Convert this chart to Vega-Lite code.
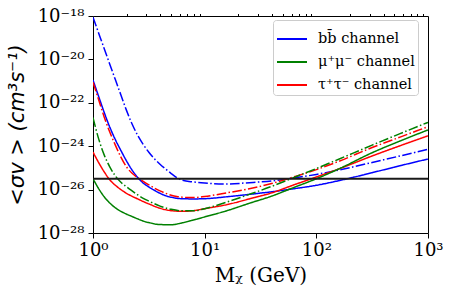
{
"$schema":"https://vega.github.io/schema/vega-lite/v6.json",
"width":335,"height":217,
"autosize":{"type":"none"},
"padding":{"left":93,"top":16,"right":23,"bottom":66},
"background":"white",
"config":{"view":{"stroke":"black","strokeWidth":1}},
"data":{"values":[
{"m":1,"v":8.71e-19,"c":"b","s":"dd"},{"m":1.122,"v":1.66e-19,"c":"b","s":"dd"},{"m":1.259,"v":3.16e-20,"c":"b","s":"dd"},{"m":1.413,"v":6.03e-21,"c":"b","s":"dd"},{"m":1.585,"v":1.17e-21,"c":"b","s":"dd"},{"m":1.778,"v":2.29e-22,"c":"b","s":"dd"},{"m":1.995,"v":4.47e-23,"c":"b","s":"dd"},{"m":2.239,"v":1.05e-23,"c":"b","s":"dd"},{"m":2.512,"v":3.16e-24,"c":"b","s":"dd"},{"m":2.818,"v":1.20e-24,"c":"b","s":"dd"},{"m":3.162,"v":5.25e-25,"c":"b","s":"dd"},{"m":3.548,"v":2.63e-25,"c":"b","s":"dd"},{"m":3.981,"v":1.48e-25,"c":"b","s":"dd"},{"m":4.467,"v":8.91e-26,"c":"b","s":"dd"},{"m":5.012,"v":5.50e-26,"c":"b","s":"dd"},{"m":5.623,"v":3.55e-26,"c":"b","s":"dd"},{"m":6.31,"v":2.69e-26,"c":"b","s":"dd"},{"m":7.943,"v":2.24e-26,"c":"b","s":"dd"},{"m":10,"v":2.00e-26,"c":"b","s":"dd"},{"m":15.85,"v":1.82e-26,"c":"b","s":"dd"},{"m":25.12,"v":2.09e-26,"c":"b","s":"dd"},{"m":39.81,"v":2.51e-26,"c":"b","s":"dd"},{"m":63.1,"v":3.47e-26,"c":"b","s":"dd"},{"m":100,"v":5.01e-26,"c":"b","s":"dd"},{"m":158.5,"v":7.94e-26,"c":"b","s":"dd"},{"m":316.2,"v":1.78e-25,"c":"b","s":"dd"},{"m":562.3,"v":3.55e-25,"c":"b","s":"dd"},{"m":1000,"v":7.24e-25,"c":"b","s":"dd"},
{"m":1,"v":1.12e-21,"c":"b","s":"solid"},{"m":1.122,"v":2.00e-22,"c":"b","s":"solid"},{"m":1.259,"v":3.63e-23,"c":"b","s":"solid"},{"m":1.413,"v":7.59e-24,"c":"b","s":"solid"},{"m":1.585,"v":2.00e-24,"c":"b","s":"solid"},{"m":1.778,"v":6.31e-25,"c":"b","s":"solid"},{"m":1.995,"v":2.09e-25,"c":"b","s":"solid"},{"m":2.239,"v":7.94e-26,"c":"b","s":"solid"},{"m":2.512,"v":3.63e-26,"c":"b","s":"solid"},{"m":2.818,"v":2.00e-26,"c":"b","s":"solid"},{"m":3.162,"v":1.32e-26,"c":"b","s":"solid"},{"m":3.548,"v":9.33e-27,"c":"b","s":"solid"},{"m":3.981,"v":6.76e-27,"c":"b","s":"solid"},{"m":4.467,"v":5.25e-27,"c":"b","s":"solid"},{"m":5.012,"v":4.47e-27,"c":"b","s":"solid"},{"m":5.623,"v":3.98e-27,"c":"b","s":"solid"},{"m":6.31,"v":3.80e-27,"c":"b","s":"solid"},{"m":7.943,"v":3.72e-27,"c":"b","s":"solid"},{"m":10,"v":3.80e-27,"c":"b","s":"solid"},{"m":15.85,"v":4.68e-27,"c":"b","s":"solid"},{"m":25.12,"v":6.03e-27,"c":"b","s":"solid"},{"m":39.81,"v":7.94e-27,"c":"b","s":"solid"},{"m":63.1,"v":1.10e-26,"c":"b","s":"solid"},{"m":100,"v":1.58e-26,"c":"b","s":"solid"},{"m":158.5,"v":2.57e-26,"c":"b","s":"solid"},{"m":316.2,"v":6.03e-26,"c":"b","s":"solid"},{"m":562.3,"v":1.26e-25,"c":"b","s":"solid"},{"m":1000,"v":2.57e-25,"c":"b","s":"solid"},
{"m":1,"v":8.91e-22,"c":"t","s":"dd"},{"m":1.122,"v":1.41e-22,"c":"t","s":"dd"},{"m":1.259,"v":2.24e-23,"c":"t","s":"dd"},{"m":1.413,"v":4.47e-24,"c":"t","s":"dd"},{"m":1.585,"v":1.12e-24,"c":"t","s":"dd"},{"m":1.778,"v":3.16e-25,"c":"t","s":"dd"},{"m":1.995,"v":1.12e-25,"c":"t","s":"dd"},{"m":2.239,"v":5.62e-26,"c":"t","s":"dd"},{"m":2.512,"v":3.55e-26,"c":"t","s":"dd"},{"m":2.818,"v":2.40e-26,"c":"t","s":"dd"},{"m":3.162,"v":1.66e-26,"c":"t","s":"dd"},{"m":3.548,"v":1.17e-26,"c":"t","s":"dd"},{"m":3.981,"v":8.71e-27,"c":"t","s":"dd"},{"m":4.467,"v":6.76e-27,"c":"t","s":"dd"},{"m":5.012,"v":5.50e-27,"c":"t","s":"dd"},{"m":5.623,"v":4.79e-27,"c":"t","s":"dd"},{"m":6.31,"v":4.47e-27,"c":"t","s":"dd"},{"m":7.943,"v":4.27e-27,"c":"t","s":"dd"},{"m":10,"v":4.79e-27,"c":"t","s":"dd"},{"m":15.85,"v":7.08e-27,"c":"t","s":"dd"},{"m":25.12,"v":1.10e-26,"c":"t","s":"dd"},{"m":39.81,"v":1.91e-26,"c":"t","s":"dd"},{"m":63.1,"v":3.89e-26,"c":"t","s":"dd"},{"m":100,"v":8.32e-26,"c":"t","s":"dd"},{"m":158.5,"v":2.00e-25,"c":"t","s":"dd"},{"m":316.2,"v":8.71e-25,"c":"t","s":"dd"},{"m":562.3,"v":2.63e-24,"c":"t","s":"dd"},{"m":1000,"v":7.94e-24,"c":"t","s":"dd"},
{"m":1,"v":5.37e-25,"c":"t","s":"solid"},{"m":1.122,"v":1.78e-25,"c":"t","s":"solid"},{"m":1.259,"v":6.61e-26,"c":"t","s":"solid"},{"m":1.413,"v":2.82e-26,"c":"t","s":"solid"},{"m":1.585,"v":1.58e-26,"c":"t","s":"solid"},{"m":1.778,"v":1.00e-26,"c":"t","s":"solid"},{"m":1.995,"v":6.76e-27,"c":"t","s":"solid"},{"m":2.239,"v":4.90e-27,"c":"t","s":"solid"},{"m":2.512,"v":3.72e-27,"c":"t","s":"solid"},{"m":2.818,"v":2.82e-27,"c":"t","s":"solid"},{"m":3.162,"v":2.19e-27,"c":"t","s":"solid"},{"m":3.981,"v":1.38e-27,"c":"t","s":"solid"},{"m":5.012,"v":1.07e-27,"c":"t","s":"solid"},{"m":6.31,"v":1.00e-27,"c":"t","s":"solid"},{"m":7.943,"v":1.07e-27,"c":"t","s":"solid"},{"m":10,"v":1.32e-27,"c":"t","s":"solid"},{"m":15.85,"v":2.04e-27,"c":"t","s":"solid"},{"m":25.12,"v":3.72e-27,"c":"t","s":"solid"},{"m":39.81,"v":7.08e-27,"c":"t","s":"solid"},{"m":63.1,"v":1.66e-26,"c":"t","s":"solid"},{"m":100,"v":3.80e-26,"c":"t","s":"solid"},{"m":158.5,"v":8.91e-26,"c":"t","s":"solid"},{"m":316.2,"v":3.55e-25,"c":"t","s":"solid"},{"m":562.3,"v":1.05e-24,"c":"t","s":"solid"},{"m":1000,"v":3.02e-24,"c":"t","s":"solid"},
{"m":1,"v":2.09e-23,"c":"m","s":"dd"},{"m":1.122,"v":2.24e-24,"c":"m","s":"dd"},{"m":1.259,"v":3.98e-25,"c":"m","s":"dd"},{"m":1.413,"v":1.12e-25,"c":"m","s":"dd"},{"m":1.585,"v":4.27e-26,"c":"m","s":"dd"},{"m":1.778,"v":2.19e-26,"c":"m","s":"dd"},{"m":1.995,"v":1.35e-26,"c":"m","s":"dd"},{"m":2.239,"v":8.71e-27,"c":"m","s":"dd"},{"m":2.512,"v":5.75e-27,"c":"m","s":"dd"},{"m":2.818,"v":3.98e-27,"c":"m","s":"dd"},{"m":3.162,"v":2.95e-27,"c":"m","s":"dd"},{"m":3.981,"v":1.74e-27,"c":"m","s":"dd"},{"m":5.012,"v":1.23e-27,"c":"m","s":"dd"},{"m":6.31,"v":1.05e-27,"c":"m","s":"dd"},{"m":7.943,"v":1.05e-27,"c":"m","s":"dd"},{"m":10,"v":1.32e-27,"c":"m","s":"dd"},{"m":15.85,"v":2.69e-27,"c":"m","s":"dd"},{"m":25.12,"v":6.03e-27,"c":"m","s":"dd"},{"m":39.81,"v":1.41e-26,"c":"m","s":"dd"},{"m":63.1,"v":3.63e-26,"c":"m","s":"dd"},{"m":100,"v":9.33e-26,"c":"m","s":"dd"},{"m":158.5,"v":2.51e-25,"c":"m","s":"dd"},{"m":316.2,"v":1.12e-24,"c":"m","s":"dd"},{"m":562.3,"v":3.80e-24,"c":"m","s":"dd"},{"m":1000,"v":1.26e-23,"c":"m","s":"dd"},
{"m":1,"v":3.16e-26,"c":"m","s":"solid"},{"m":1.122,"v":1.12e-26,"c":"m","s":"solid"},{"m":1.259,"v":4.68e-27,"c":"m","s":"solid"},{"m":1.413,"v":2.40e-27,"c":"m","s":"solid"},{"m":1.585,"v":1.45e-27,"c":"m","s":"solid"},{"m":1.778,"v":1.00e-27,"c":"m","s":"solid"},{"m":1.995,"v":7.41e-28,"c":"m","s":"solid"},{"m":2.239,"v":5.75e-28,"c":"m","s":"solid"},{"m":2.512,"v":4.47e-28,"c":"m","s":"solid"},{"m":2.818,"v":3.55e-28,"c":"m","s":"solid"},{"m":3.162,"v":3.02e-28,"c":"m","s":"solid"},{"m":3.981,"v":2.45e-28,"c":"m","s":"solid"},{"m":5.012,"v":2.40e-28,"c":"m","s":"solid"},{"m":6.31,"v":2.95e-28,"c":"m","s":"solid"},{"m":7.943,"v":3.98e-28,"c":"m","s":"solid"},{"m":10,"v":5.50e-28,"c":"m","s":"solid"},{"m":15.85,"v":1.07e-27,"c":"m","s":"solid"},{"m":25.12,"v":2.34e-27,"c":"m","s":"solid"},{"m":39.81,"v":5.01e-27,"c":"m","s":"solid"},{"m":63.1,"v":1.26e-26,"c":"m","s":"solid"},{"m":100,"v":3.16e-26,"c":"m","s":"solid"},{"m":158.5,"v":8.91e-26,"c":"m","s":"solid"},{"m":316.2,"v":5.01e-25,"c":"m","s":"solid"},{"m":562.3,"v":1.74e-24,"c":"m","s":"solid"},{"m":1000,"v":5.62e-24,"c":"m","s":"solid"}
]},
"layer":[
{"mark":{"type":"line","strokeWidth":1.5,"interpolate":"monotone","clip":true},
 "encoding":{
  "x":{"field":"m","type":"quantitative","scale":{"type":"log","domain":[1,1000],"nice":false},
   "axis":{"values":[1,10,100,1000],"labelExpr":"datum.value < 5 ? '10⁰' : datum.value < 50 ? '10¹' : datum.value < 500 ? '10²' : '10³'","labelFlush":false,"tickSize":5,"tickColor":"black","labelFont":"DejaVu Serif","labelFontSize":18,"labelColor":"black","labelPadding":3,"domain":false,"grid":false,"title":"Mᵪ (GeV)","titleFont":"DejaVu Serif","titleFontSize":20,"titleFontWeight":"normal","titleColor":"black","titleY":48,"titleBaseline":"alphabetic"}},
  "y":{"field":"v","type":"quantitative","scale":{"type":"log","domain":[1e-28,1e-18],"nice":false},
   "axis":{"values":[1e-28,1e-26,1e-24,1e-22,1e-20,1e-18],"labelExpr":"datum.value < 5e-28 ? '10⁻²⁸' : datum.value < 5e-26 ? '10⁻²⁶' : datum.value < 5e-24 ? '10⁻²⁴' : datum.value < 5e-22 ? '10⁻²²' : datum.value < 5e-20 ? '10⁻²⁰' : '10⁻¹⁸'","labelFlush":false,"tickSize":5,"tickColor":"black","labelFont":"DejaVu Serif","labelFontSize":18,"labelColor":"black","labelPadding":4,"domain":false,"grid":false,"title":"<σv > (cm³s⁻¹)","titleFont":"DejaVu Sans","titleFontStyle":"italic","titleFontSize":21,"titleFontWeight":"normal","titleColor":"black","titleX":-66}},
  "color":{"field":"c","type":"nominal","scale":{"domain":["b","m","t"],"range":["#0000ff","#008000","#ff0000"]},
   "legend":{"orient":"none","legendX":180,"legendY":4,"title":null,"labelExpr":"datum.value == 'b' ? 'bb̄ channel' : datum.value == 'm' ? 'μ⁺μ⁻ channel' : 'τ⁺τ⁻ channel'","symbolType":"stroke","symbolSize":900,"symbolStrokeWidth":2,"labelFont":"DejaVu Serif","labelFontSize":14.5,"labelColor":"black","labelOffset":10,"rowPadding":-1.5,"padding":3,"fillColor":"white","strokeColor":"#cccccc","cornerRadius":3}},
  "strokeDash":{"field":"s","type":"nominal","scale":{"domain":["solid","dd"],"range":[[1,0],[9.6,2.4,1.5,2.4]]},"legend":null}
 }},
{"data":{"values":[{}]},"mark":{"type":"rule","color":"#1a1a1a","strokeWidth":2},"encoding":{"y":{"datum":3.16e-26}}},
{"data":{"values":[{"m":2},{"m":900}]},"mark":{"type":"point","opacity":0},
 "encoding":{
  "x":{"field":"m","type":"quantitative","axis":{"values":[2,3,4,5,6,7,8,9,20,30,40,50,60,70,80,90,200,300,400,500,600,700,800,900],"labels":false,"tickSize":2.5,"tickColor":"black","domain":false,"grid":false,"title":null}}
 }}
],
"resolve":{"axis":{"x":"independent"}}
}
